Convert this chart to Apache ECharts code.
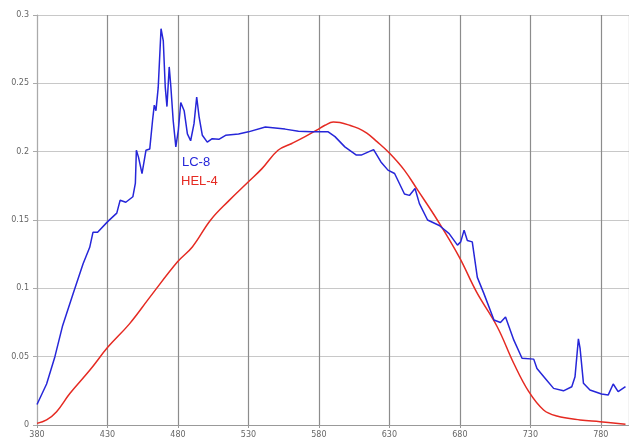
<!DOCTYPE html>
<html>
<head>
<meta charset="utf-8">
<script src="https://cdn.jsdelivr.net/npm/echarts@6/dist/echarts.min.js"></script>
<style>
html,body{margin:0;padding:0;background:#fff;}
#c{width:629px;height:448px;}
</style>
</head>
<body>
<div id="c"></div>
<script>
// Wavelength (nm) and relative intensity, LC-8
var lcX = [380,386.8,392.7,398,405.6,412.7,417.4,419.7,423,430.3,436.6,439,443,448,449.8,450.5,452,454.5,457.3,460,462,463.2,464.4,466,468,469.6,471,472.2,473.8,475,476.6,478.5,480.3,482,484.4,486.7,489,491.4,493.3,495,497.3,500.8,504.3,509,513.8,523,530,542,556,565.5,575,586.6,591.4,598.4,606.6,610,618.8,624,629,633.7,640.7,644.2,648.2,651.3,657.1,665.4,672.4,678.3,680.6,683,685.3,688.8,692.4,697,704.2,708.8,712.4,718.3,724.1,732.4,734.7,740.6,746.5,753.5,759.4,761.7,764.1,765.3,767.7,772.3,780.5,785.3,788.8,792.3,797.5];
var lcY = [0.015,0.030,0.050,0.072,0.096,0.118,0.130,0.141,0.141,0.149,0.155,0.1645,0.163,0.167,0.177,0.201,0.196,0.184,0.201,0.202,0.223,0.234,0.230,0.247,0.290,0.281,0.247,0.233,0.262,0.247,0.223,0.2035,0.216,0.236,0.230,0.213,0.208,0.2205,0.240,0.2255,0.212,0.207,0.2095,0.209,0.212,0.213,0.2145,0.218,0.2165,0.215,0.2145,0.2145,0.211,0.2035,0.1975,0.1975,0.2015,0.1925,0.1865,0.184,0.169,0.168,0.173,0.162,0.150,0.146,0.140,0.1316,0.134,0.1426,0.135,0.134,0.108,0.0963,0.0768,0.075,0.079,0.0621,0.0488,0.0482,0.0414,0.0341,0.0268,0.025,0.028,0.0353,0.063,0.056,0.0305,0.0256,0.0227,0.022,0.030,0.0244,0.028];
// HEL-4
var helX = [380,386.8,393.9,403.3,417.4,430.3,445.6,459.7,479.7,490.2,503.2,516,530,539.6,551,560.8,570.2,578.4,584.3,590.2,594.9,601.9,608,614,621,630,640.6,650,664,679.5,692,706.5,718.3,728.9,739.4,748.8,765.3,779.4,797.5];
var helY = [0.0012,0.0037,0.0097,0.023,0.040,0.057,0.074,0.093,0.1194,0.1303,0.150,0.164,0.178,0.1876,0.201,0.206,0.211,0.2157,0.2193,0.2217,0.2213,0.2193,0.2170,0.2135,0.2075,0.199,0.1865,0.172,0.150,0.123,0.097,0.0719,0.045,0.0244,0.011,0.0066,0.0037,0.0024,0.0005];
var seriesNames = ['LC-8','HEL-4'];
var xMin = 380, xMax = 800, xStep = 50;
var yMin = 0, yMax = 0.3, yStep = 0.05;

function pairs(xs, ys){ return xs.map(function(x,i){ return [x, ys[i]]; }); }

var chart = echarts.init(document.getElementById('c'), null, {renderer:'canvas'});
var labelStyle = {color:'#666', fontSize:8, fontFamily:'DejaVu Sans'};
chart.setOption({
  animation:false,
  backgroundColor:'#fff',
  grid:{left:37, top:15, right:-4, bottom:23, containLabel:false},
  xAxis:{
    type:'value', min:xMin, max:xMax, interval:xStep,
    axisLine:{show:true, lineStyle:{color:'#999', width:1}},
    axisTick:{show:true, length:3, lineStyle:{color:'#999'}},
    axisLabel:Object.assign({margin:6, showMaxLabel:false}, labelStyle),
    splitLine:{show:true, lineStyle:{color:'#8c8c8c', width:1.2}}
  },
  yAxis:{
    type:'value', min:yMin, max:yMax, interval:yStep,
    axisLine:{show:true, lineStyle:{color:'#aaa', width:1}},
    axisTick:{show:true, length:4, lineStyle:{color:'#aaa'}},
    axisLabel:Object.assign({margin:8}, labelStyle),
    splitLine:{show:true, lineStyle:{color:'#c8c8c8', width:1.2}}
  },
  series:[
    {name:seriesNames[0], type:'line', data:pairs(lcX, lcY), showSymbol:false, symbol:'none',
     lineStyle:{color:'#2626d9', width:1.5}, smooth:false, z:3},
    {name:seriesNames[1], type:'line', data:pairs(helX, helY), showSymbol:false, symbol:'none',
     lineStyle:{color:'#e52a22', width:1.5}, smooth:0.4, z:2}
  ],
  graphic:[
    {type:'text', left:182, top:156, style:{text:seriesNames[0], fill:'#2626d9', fontSize:13, fontFamily:'Liberation Sans'}},
    {type:'text', left:181, top:175, style:{text:seriesNames[1], fill:'#e52a22', fontSize:13, fontFamily:'Liberation Sans'}}
  ]
});
</script>
</body>
</html>
